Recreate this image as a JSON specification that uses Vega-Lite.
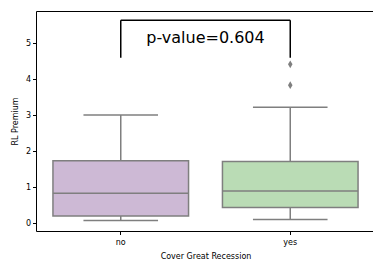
{
  "$schema": "https://vega.github.io/schema/vega-lite/v6.json",
  "width": 339,
  "height": 220,
  "autosize": {"type": "none"},
  "padding": {"left": 36, "top": 11, "right": 0, "bottom": 31},
  "background": "white",
  "config": {
    "view": {"stroke": "black", "strokeWidth": 1},
    "font": "DejaVu Sans",
    "axis": {
      "labelFont": "DejaVu Sans",
      "titleFont": "DejaVu Sans",
      "labelFontSize": 8,
      "titleFontSize": 8,
      "titleFontWeight": "normal",
      "labelColor": "black",
      "titleColor": "black",
      "tickColor": "black",
      "tickSize": 3.5,
      "domain": false,
      "grid": false
    }
  },
  "datasets": {
    "boxes": [
      {"group": "no", "lower": 0.07, "q1": 0.2, "median": 0.83, "q3": 1.73, "upper": 3.0},
      {"group": "yes", "lower": 0.1, "q1": 0.43, "median": 0.89, "q3": 1.71, "upper": 3.22}
    ],
    "outliers": [
      {"group": "yes", "value": 4.41},
      {"group": "yes", "value": 3.83}
    ],
    "bracket": [
      {"group": "no", "end": "yes", "low": 4.59, "high": 5.63, "label": "p-value=0.604", "labely": 5.15}
    ]
  },
  "encoding": {
    "x": {
      "field": "group",
      "type": "nominal",
      "scale": {"domain": ["no", "yes"], "paddingInner": 0, "paddingOuter": 0},
      "axis": {"title": "Cover Great Recession", "labelAngle": 0, "labelPadding": 4, "titlePadding": 6}
    }
  },
  "layer": [
    {
      "data": {"name": "boxes"},
      "mark": {"type": "rule", "color": "#7f7f7f", "strokeWidth": 1.5},
      "encoding": {
        "y": {
          "field": "lower",
          "type": "quantitative",
          "scale": {"domain": [-0.22, 5.89], "nice": false, "zero": false},
          "axis": {"title": "RL Premium", "values": [0, 1, 2, 3, 4, 5], "labelPadding": 2, "titlePadding": 6}
        },
        "y2": {"field": "upper"}
      }
    },
    {
      "data": {"name": "boxes"},
      "mark": {"type": "rule", "color": "#7f7f7f", "strokeWidth": 1.5},
      "encoding": {
        "x": {"field": "group", "type": "nominal", "bandPosition": 0.28},
        "x2": {"field": "group", "bandPosition": 0.72},
        "y": {"field": "lower", "type": "quantitative"}
      }
    },
    {
      "data": {"name": "boxes"},
      "mark": {"type": "rule", "color": "#7f7f7f", "strokeWidth": 1.5},
      "encoding": {
        "x": {"field": "group", "type": "nominal", "bandPosition": 0.28},
        "x2": {"field": "group", "bandPosition": 0.72},
        "y": {"field": "upper", "type": "quantitative"}
      }
    },
    {
      "data": {"name": "boxes"},
      "mark": {"type": "bar", "stroke": "#7f7f7f", "strokeWidth": 1.5, "width": {"band": 0.8}},
      "encoding": {
        "y": {"field": "q1", "type": "quantitative"},
        "y2": {"field": "q3"},
        "fill": {
          "field": "group",
          "type": "nominal",
          "scale": {"domain": ["no", "yes"], "range": ["#cdb9d5", "#badcb5"]},
          "legend": null
        }
      }
    },
    {
      "data": {"name": "boxes"},
      "mark": {"type": "rule", "color": "#7f7f7f", "strokeWidth": 1.5},
      "encoding": {
        "x": {"field": "group", "type": "nominal", "bandPosition": 0.1},
        "x2": {"field": "group", "bandPosition": 0.9},
        "y": {"field": "median", "type": "quantitative"}
      }
    },
    {
      "data": {"name": "outliers"},
      "mark": {"type": "point", "shape": "M0,-1.3L0.75,0L0,1.3L-0.75,0Z", "filled": true, "color": "#7f7f7f", "size": 36, "opacity": 1},
      "encoding": {
        "y": {"field": "value", "type": "quantitative"}
      }
    },
    {
      "data": {"name": "bracket"},
      "mark": {"type": "rule", "color": "black", "strokeWidth": 1.5},
      "encoding": {
        "y": {"field": "low", "type": "quantitative"},
        "y2": {"field": "high"}
      }
    },
    {
      "data": {"name": "bracket"},
      "mark": {"type": "rule", "color": "black", "strokeWidth": 1.5},
      "encoding": {
        "x": {"field": "end", "type": "nominal"},
        "y": {"field": "low", "type": "quantitative"},
        "y2": {"field": "high"}
      }
    },
    {
      "data": {"name": "bracket"},
      "mark": {"type": "rule", "color": "black", "strokeWidth": 1.5},
      "encoding": {
        "x2": {"field": "end"},
        "y": {"field": "high", "type": "quantitative"}
      }
    },
    {
      "data": {"name": "bracket"},
      "mark": {"type": "text", "fontSize": 16, "font": "DejaVu Sans", "color": "black", "align": "center", "baseline": "middle"},
      "encoding": {
        "x": {"field": "group", "type": "nominal", "bandPosition": 1},
        "y": {"field": "labely", "type": "quantitative"},
        "text": {"field": "label"}
      }
    }
  ]
}
